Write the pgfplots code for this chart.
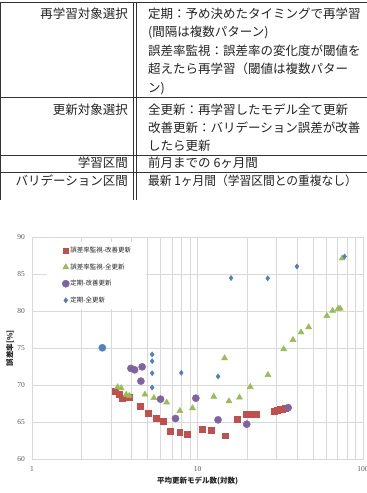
\documentclass[border=0pt]{standalone}
\usepackage{fontspec}
\setmainfont{Noto Sans CJK JP}
\newfontfamily\tickfont{Liberation Serif}
\usepackage{pgfplots}
\pgfplotsset{compat=1.18}

\definecolor{cRed}{HTML}{C0504D}
\definecolor{cGreen}{HTML}{9BBB59}
\definecolor{cPurple}{HTML}{8064A2}
\definecolor{cBlue}{HTML}{4F81BD}
\definecolor{gridc}{HTML}{D9D9D9}
\definecolor{txt}{HTML}{222222}
\definecolor{ticktxt}{HTML}{595959}
\definecolor{rulec}{HTML}{333333}

\newcommand\tabfont{\fontsize{12.5}{12.5}\selectfont}

\begin{document}
\begin{tikzpicture}
\useasboundingbox (0pt,0pt) rectangle (367pt,-493pt);

% ---- settings table ----
\begin{scope}[draw=rulec, line width=0.7pt]
  \draw (0pt,-2.5pt) -- (367pt,-2.5pt);
  \draw (0pt,-97pt) -- (367pt,-97pt);
  \draw (0pt,-155pt) -- (367pt,-155pt);
  \draw (0pt,-172pt) -- (367pt,-172pt);
  \draw (0.6pt,-2.5pt) -- (0.6pt,-200pt);
  \draw (133.5pt,-2.5pt) -- (133.5pt,-200pt);
  \draw (136.5pt,-2.5pt) -- (136.5pt,-200pt);
\end{scope}

\begin{scope}[every node/.style={inner sep=0pt, text=txt, font=\tabfont}]
  \node[anchor=base east] at (128pt,-18.3pt) {再学習対象選択};
  \node[anchor=base west] at (148pt,-18.3pt) {定期：予め決めたタイミングで再学習};
  \node[anchor=base west] at (148pt,-36.8pt) {(間隔は複数パターン)};
  \node[anchor=base west] at (148pt,-55.3pt) {誤差率監視：誤差率の変化度が閾値を};
  \node[anchor=base west] at (148pt,-73.8pt) {超えたら再学習（閾値は複数パター};
  \node[anchor=base west] at (148pt,-92.3pt) {ン)};

  \node[anchor=base east] at (128pt,-114.3pt) {更新対象選択};
  \node[anchor=base west] at (148pt,-114.3pt) {全更新：再学習したモデル全て更新};
  \node[anchor=base west] at (148pt,-132.3pt) {改善更新：バリデーション誤差が改善};
  \node[anchor=base west] at (148pt,-150.3pt) {したら更新};

  \node[anchor=base east] at (128pt,-167.6pt) {学習区間};
  \node[anchor=base west] at (148pt,-167.6pt) {前月までの 6ヶ月間};

  \node[anchor=base east] at (128pt,-185.3pt) {バリデーション区間};
  \node[anchor=base west] at (148pt,-185.3pt) {\scalebox{0.94}[1]{最新 1ヶ月間（学習区間との重複なし）}};
\end{scope}

% ---- error rate vs. number of updated models ----
\begin{axis}[
  at={(32pt,-237.3pt)}, anchor=north west,
  scale only axis, width=331pt, height=221.7pt,
  xmode=log, xmin=1, xmax=100, ymin=60, ymax=90,
  xtick={1,10,100}, xticklabels={1,10,100},
  minor xtick={2,3,4,5,6,7,8,9,20,30,40,50,60,70,80,90},
  ytick={60,65,70,75,80,85,90},
  grid=both,
  major grid style={draw=gridc, line width=0.7pt},
  minor grid style={draw=gridc, line width=0.7pt},
  axis line style={draw=gridc, line width=0.7pt},
  major tick length=0pt, minor tick length=0pt,
  /pgf/number format/assume math mode=true,
  tick label style={font=\tickfont\fontsize{7.5}{8}\selectfont, text=ticktxt},
  yticklabel style={inner sep=0pt, xshift=-7pt},
  xticklabel style={inner sep=0pt, yshift=-7pt},
  xlabel={平均更新モデル数(対数)},
  ylabel={誤差率[\%]},
  label style={font=\bfseries\fontsize{7.5}{8}\selectfont, text=txt, inner sep=0pt},
  x label style={at={(axis description cs:0.5,-0.0979)}, anchor=center},
  y label style={at={(axis description cs:-0.0665,0.5)}, anchor=center},
  legend style={at={(axis description cs:0.0453,0.979)}, anchor=north west,
    draw=none, fill=white, inner xsep=15pt, inner ysep=5pt,
    font=\fontsize{6.5}{7}\selectfont, text=txt,
    row sep=9.5pt, column sep=1pt,
    nodes={inner sep=0pt}},
  legend cell align=left,
  legend image code/.code={\draw[#1] plot coordinates {(0pt,0pt)};},
]

\addplot[only marks, mark=square*, mark size=2.9pt, color=cRed] table {
x y
3.17 69.22
3.36 68.74
3.50 68.21
3.85 68.41
4.49 67.12
5.01 66.18
5.62 65.55
6.23 65.08
6.87 63.79
7.80 63.59
8.69 63.40
10.62 64.04
12.08 63.86
14.66 63.15
17.39 65.35
19.65 66.07
21.56 66.07
22.58 66.03
29.11 66.45
30.30 66.61
31.60 66.72
32.70 66.78
33.90 66.88
};
\addlegendentry{誤差率監視-改善更新}

\addplot[only marks, mark=triangle*, mark size=3.5pt, color=cGreen] table {
x y
3.29 69.72
3.46 69.59
3.71 68.71
3.87 68.57
4.81 68.73
5.45 68.27
6.51 67.66
7.82 66.51
9.33 66.88
12.54 68.44
14.57 73.65
15.49 67.83
17.93 68.33
20.83 69.76
26.64 71.38
33.18 74.87
37.76 76.12
42.20 77.15
46.96 77.85
60.50 79.37
65.50 80.06
70.70 80.33
72.90 80.36
74.80 87.16
};
\addlegendentry{誤差率監視-全更新}

\addplot[only marks, mark=*, mark size=3.6pt, color=cPurple] table {
x y
3.96 72.26
4.17 72.07
4.63 72.47
4.55 70.54
5.98 68.10
7.36 65.48
9.77 68.23
13.31 65.30
19.84 64.71
35.30 66.95
};
\addlegendentry{定期-改善更新}

\addplot[only marks, mark=diamond*, mark size=2.6pt, color=cBlue] table {
x y
5.32 74.15
5.32 73.24
5.32 71.62
5.32 69.68
7.98 71.66
13.31 71.17
15.95 84.49
26.57 84.45
39.90 86.05
77.40 87.40
};
\addlegendentry{定期-全更新}

% highlighted run drawn as a larger circle
\addplot[only marks, mark=*, mark size=3.6pt, color=cBlue, forget plot] table {
x y
2.66 75.05
};

\end{axis}
\end{tikzpicture}
\end{document}
